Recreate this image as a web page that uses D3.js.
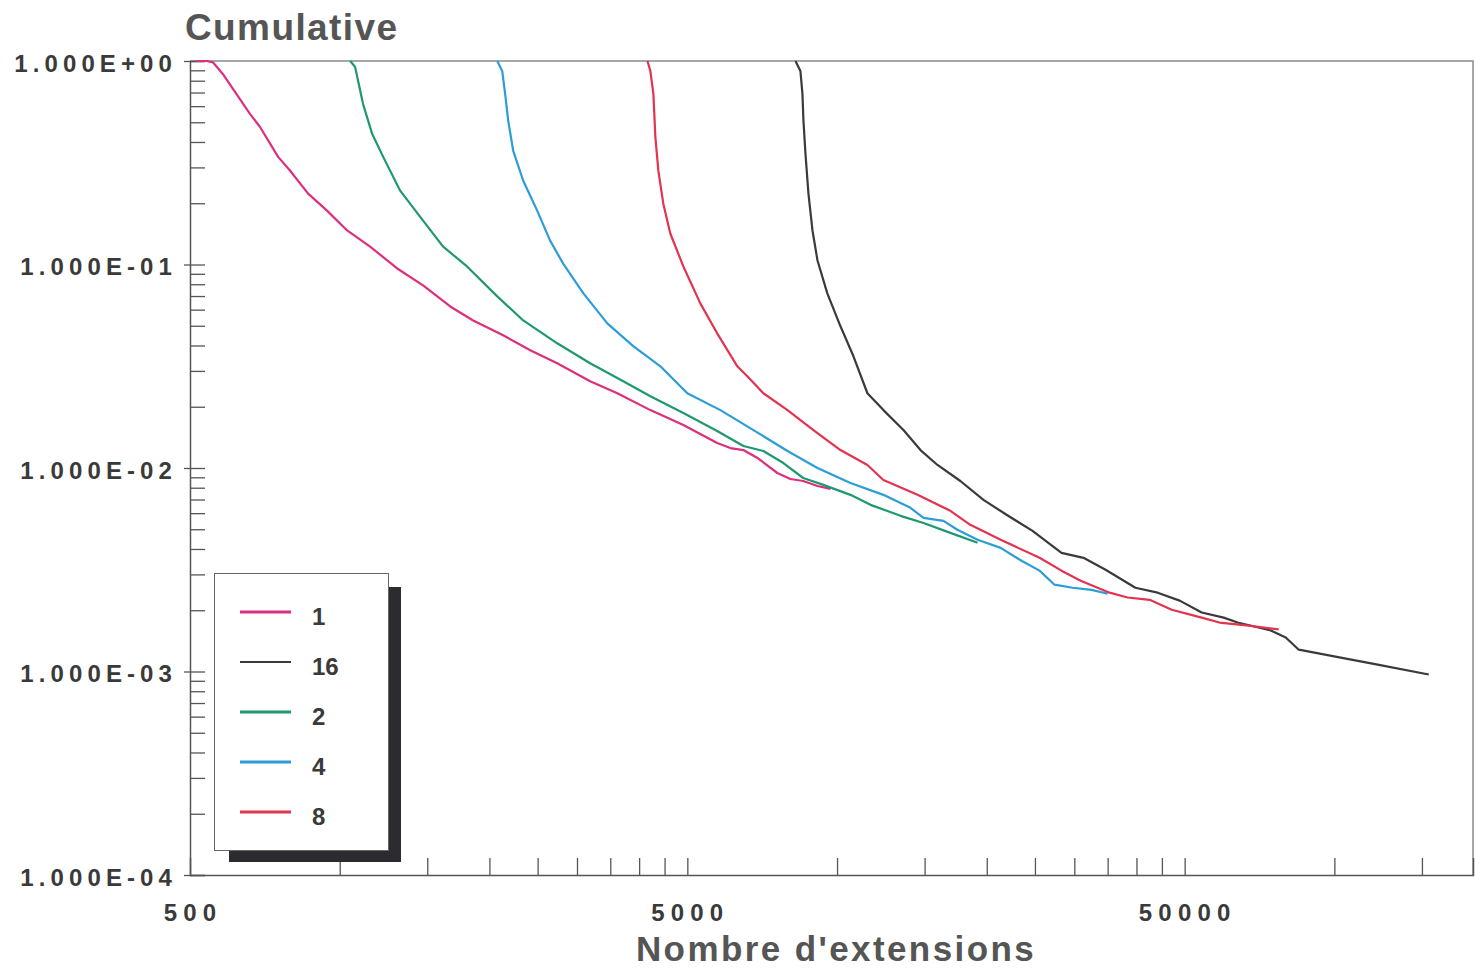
<!DOCTYPE html>
<html>
<head>
<meta charset="utf-8">
<script src="https://cdnjs.cloudflare.com/ajax/libs/d3/7.8.5/d3.min.js"></script>
<style>
    body { margin: 0; background: #fff; }
    svg { font-family: "Liberation Sans", Arial, sans-serif; }
</style>
</head>
<body>
<svg width="1475" height="971"></svg>
<script>
// **** Data: [nombre d'extensions, cumulative] ****

var series1 = [[515, 1.0], [540, 1.0], [556, 0.985], [582, 0.864], [610, 0.729], [660, 0.550], [691, 0.475],
    [752, 0.338], [795, 0.289], [864, 0.223], [943, 0.184], [1035, 0.147], [1151, 0.1225], [1305, 0.0956],
    [1471, 0.0789], [1668, 0.0622], [1855, 0.0531], [2131, 0.0449], [2416, 0.0379], [2737, 0.0327],
    [3188, 0.0267], [3616, 0.0233], [4213, 0.01925], [4909, 0.01625], [5741, 0.01326], [6102, 0.01253],
    [6482, 0.01225], [6917, 0.0112], [7585, 0.00945], [8055, 0.00883], [8550, 0.00863], [9135, 0.00816],
    [9700, 0.00789]];

var series16 = [[8250, 1.0], [8440, 0.893], [8520, 0.689], [8560, 0.508], [8640, 0.35], [8760, 0.223],
    [8925, 0.147], [9135, 0.1046], [9560, 0.0721], [10160, 0.0497], [10790, 0.0354], [11510, 0.0233],
    [12395, 0.01925], [13600, 0.01536], [14715, 0.01225], [15920, 0.01035], [17700, 0.00863],
    [19700, 0.00697], [21920, 0.00589], [24720, 0.00491], [28270, 0.00383], [31300, 0.00362],
    [34670, 0.00316], [39800, 0.00258], [44120, 0.00244], [48860, 0.00223], [54100, 0.00195],
    [59900, 0.00184], [63900, 0.00174], [74500, 0.00159], [79850, 0.00147], [84800, 0.00128],
    [103000, 0.00117], [122200, 0.00108], [154800, 0.000967]];

var series2 = [[1050, 1.0], [1074, 0.935], [1089, 0.798], [1114, 0.616], [1162, 0.4387], [1223, 0.338],
    [1323, 0.2306], [1471, 0.1643], [1614, 0.1225], [1803, 0.0978], [2074, 0.0697], [2339, 0.0531],
    [2737, 0.041], [3188, 0.0327], [3717, 0.0267], [4213, 0.02254], [4909, 0.01862], [5741, 0.0152],
    [6482, 0.01282], [7110, 0.01212], [7800, 0.01058], [8550, 0.00893], [9387, 0.00826], [10640, 0.00738],
    [11676, 0.00659], [13420, 0.00582], [14925, 0.00537], [16900, 0.0048], [19165, 0.00429]];

var series4 = [[2074, 1.0], [2122, 0.893], [2151, 0.689], [2182, 0.508], [2233, 0.362], [2339, 0.258],
    [2495, 0.184], [2649, 0.131], [2814, 0.101], [3090, 0.0721], [3452, 0.0514], [3892, 0.0397],
    [4414, 0.0316], [5000, 0.0233], [5827, 0.01925], [6790, 0.01536], [7950, 0.01212], [9135, 0.0100],
    [10640, 0.00844], [12395, 0.00738], [14050, 0.00637], [14925, 0.00569], [16370, 0.0055],
    [17460, 0.00497], [19165, 0.00444], [21330, 0.00405], [23490, 0.0035], [25540, 0.00313],
    [27370, 0.00267], [29750, 0.00258], [32500, 0.00252], [35000, 0.00241]];

var series8 = [[4157, 1.0], [4213, 0.893], [4273, 0.689], [4312, 0.424], [4372, 0.289], [4474, 0.199],
    [4621, 0.142], [4909, 0.0978], [5310, 0.0644], [5741, 0.0459], [6302, 0.0316], [6600, 0.02825],
    [7110, 0.0233], [7950, 0.01925], [8964, 0.01536], [10160, 0.01225], [11510, 0.01035], [12395, 0.00873],
    [14515, 0.00738], [16900, 0.00616], [18530, 0.00526], [21330, 0.00444], [25540, 0.00362],
    [28270, 0.00313], [30900, 0.00279], [35320, 0.00244], [38390, 0.00231], [42520, 0.00225],
    [47100, 0.00201], [54100, 0.00184], [58750, 0.00174], [67300, 0.00168], [77260, 0.00161]];

var seriesNames = ['1', '16', '2', '4', '8'];
var seriesData = [series1, series16, series2, series4, series8];

var yTickValues = [1, 0.1, 0.01, 0.001, 0.0001];
var yTickLabels = ['1.000E+00', '1.000E-01', '1.000E-02', '1.000E-03', '1.000E-04'];
var xTickValues = [1000, 1500, 2000, 2500, 3000, 3500, 4000, 4500, 5000,
    10000, 15000, 20000, 25000, 30000, 35000, 40000, 45000, 50000, 100000, 150000];
var xLabelValues = [500, 5000, 50000];

// **** Scales ****

var xScale = d3.scaleLog().domain([500, 190000]).range([190, 1473]);
var yScale = d3.scaleLog().domain([0.0001, 1]).range([875, 61]);

var colors = { '1': '#dc2f7c', '16': '#3a3a3c', '2': '#1f9872', '4': '#2c9dd6', '8': '#e2334f' };

var svg = d3.select('svg');

// frame (top + right)
svg.append('path')
    .attr('d', 'M190,61H1473V875')
    .attr('fill', 'none')
    .attr('stroke', '#8a8a8a')
    .attr('stroke-width', 1.5);

// **** Axes ****

var xAxis = svg.append('g').attr('class', 'x axis')
    .attr('transform', 'translate(0,875)')
    .call(d3.axisBottom(xScale).tickValues(xTickValues).tickSize(-17).tickFormat(''));
xAxis.select('.domain').attr('stroke', '#555').attr('stroke-width', 1.5);
xAxis.selectAll('.tick line').attr('stroke', '#555').attr('stroke-width', 1.3);

// minor ticks on y, pointing inside
var yMinor = svg.append('g').attr('class', 'y axis minor')
    .attr('transform', 'translate(190,0)')
    .call(d3.axisRight(yScale).ticks(40).tickSize(15).tickFormat(''));
yMinor.select('.domain').attr('stroke', '#555').attr('stroke-width', 1.5);
yMinor.selectAll('.tick line').attr('stroke', '#555').attr('stroke-width', 1.3);

var yMajor = svg.append('g').attr('class', 'y axis')
    .attr('transform', 'translate(190,0)')
    .call(d3.axisLeft(yScale).tickValues(yTickValues).tickSize(6)
        .tickFormat(function (d, i) { return yTickLabels[i]; }));
yMajor.select('.domain').remove();
yMajor.selectAll('.tick line').attr('stroke', '#555').attr('stroke-width', 1.3);
yMajor.selectAll('.tick text')
    .attr('x', -13)
    .attr('dy', '0.42em')
    .style('font-size', '24px')
    .style('font-weight', 'bold')
    .style('letter-spacing', '5.1px')
    .attr('fill', '#3a3a3a');

// x labels
svg.append('g')
    .selectAll('text')
    .data(xLabelValues)
    .enter()
    .append('text')
    .attr('x', function (d) { return xScale(d) + 3; })
    .attr('y', 921)
    .attr('text-anchor', 'middle')
    .style('font-size', '24px')
    .style('font-weight', 'bold')
    .style('letter-spacing', '6.2px')
    .attr('fill', '#3a3a3a')
    .text(function (d) { return d; });

// titles
svg.append('text')
    .attr('x', 185)
    .attr('y', 40)
    .style('font-size', '37px')
    .style('font-weight', 'bold')
    .style('letter-spacing', '1.4px')
    .attr('fill', '#555')
    .text('Cumulative');

svg.append('text')
    .attr('x', 836)
    .attr('y', 961)
    .attr('text-anchor', 'middle')
    .style('font-size', '35px')
    .style('font-weight', 'bold')
    .style('letter-spacing', '2.4px')
    .attr('fill', '#555')
    .text("Nombre d'extensions");

// **** Curves ****

var line = d3.line()
    .x(function (d) { return xScale(d[0]); })
    .y(function (d) { return yScale(d[1]); });

svg.append('g')
    .selectAll('path')
    .data(seriesData)
    .enter()
    .append('path')
    .attr('d', line)
    .attr('fill', 'none')
    .attr('stroke', function (d, i) { return colors[seriesNames[i]]; })
    .attr('stroke-width', 2.2)
    .attr('stroke-linejoin', 'round');

// **** Legend ****

svg.append('rect')
    .attr('x', 229).attr('y', 587)
    .attr('width', 172).attr('height', 275)
    .attr('fill', '#2b2b30');

svg.append('rect')
    .attr('x', 214.5).attr('y', 573.5)
    .attr('width', 174).attr('height', 277)
    .attr('fill', '#fff')
    .attr('stroke', '#666')
    .attr('stroke-width', 1);

var legend = svg.append('g')
    .selectAll('g')
    .data(seriesNames)
    .enter()
    .append('g')
    .attr('transform', function (d, i) { return 'translate(240,' + (612 + i * 50) + ')'; });

legend.append('line')
    .attr('x1', 0).attr('x2', 51)
    .attr('stroke', function (d) { return colors[d]; })
    .attr('stroke-width', function (d) { return d === '16' ? 2 : 3; });

legend.append('text')
    .attr('x', 72)
    .attr('y', 13)
    .style('font-size', '24px')
    .style('font-weight', 'bold')
    .attr('fill', '#3a3a3a')
    .text(function (d) { return d; });
</script>
</body>
</html>
